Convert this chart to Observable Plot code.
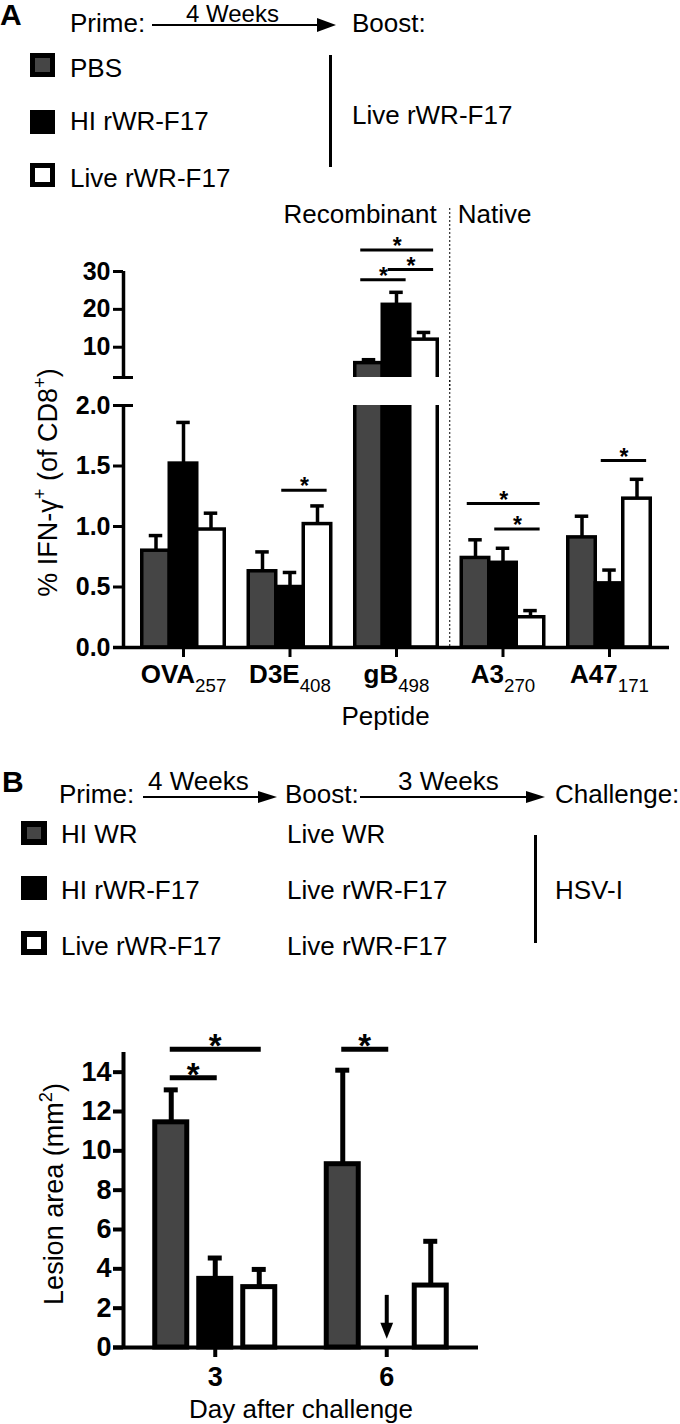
<!DOCTYPE html>
<html><head><meta charset="utf-8">
<script src="https://cdn.jsdelivr.net/npm/d3@7"></script>
<script src="https://cdn.jsdelivr.net/npm/@observablehq/plot@0.6"></script>
<style>
html,body{margin:0;padding:0;background:#fff;overflow:hidden;}
#fig{position:relative;width:680px;height:1424px;font-family:"Liberation Sans",Arial,Helvetica,sans-serif;color:#000;}
#fig svg{position:absolute;left:0;}
#fig g[aria-label$="tick label"]{font-weight:bold;}
</style></head><body><div id="fig"></div>
<script>
// ================= DATA =================
// Panel A
const peptides = ["OVA", "D3E", "gB", "A3", "A47"];
const peptideSubs = ["257", "408", "498", "270", "171"];
const nativePeptides = ["A3", "A47"];
const regionLabels = ["Recombinant", "Native"];
const groupsA = ["PBS", "HI rWR-F17", "Live rWR-F17"];
const boostA = "Live rWR-F17";
const pbsMean  = [0.80, 0.63, 5.8, 0.74, 0.91];
const pbsSem   = [0.125, 0.16, 0.9, 0.15, 0.175];
const hiMean   = [1.52, 0.50, 21.2, 0.70, 0.53];
const hiSem    = [0.34, 0.12, 3.3, 0.12, 0.11];
const liveMean = [0.975, 1.02, 12.0, 0.25, 1.23];
const liveSem  = [0.135, 0.15, 1.9, 0.055, 0.16];
const ticksAlow  = [0, 0.5, 1, 1.5, 2];
const ticksAhigh = [10, 20, 30];
const sigA = [
  {peptide: "gB",  g1: 0, g2: 2, y: 35.7},
  {peptide: "gB",  g1: 1, g2: 2, y: 30.5},
  {peptide: "gB",  g1: 0, g2: 1, y: 27.8},
  {peptide: "D3E", g1: 1, g2: 2, y: 1.30},
  {peptide: "A3",  g1: 0, g2: 2, y: 1.19},
  {peptide: "A3",  g1: 1, g2: 2, y: 0.98},
  {peptide: "A47", g1: 1, g2: 2, y: 1.545}
];
// Panel B
const days = ["3", "6"];
const groupsB = ["HI WR", "HI rWR-F17", "Live rWR-F17"];
const boostB = ["Live WR", "Live rWR-F17", "Live rWR-F17"];
const challengeB = "HSV-I";
const hiWrMean   = [11.45, 9.32];
const hiWrSem    = [1.65, 4.78];
const hiF17Mean  = [3.49, 0];
const hiF17Sem   = [1.06, 0];
const liveF17Mean = [3.07, 3.15];
const liveF17Sem  = [0.90, 2.25];
const ticksB = [0, 2, 4, 6, 8, 10, 12, 14];
const sigB = [
  {day: "3", g1: 0, g2: 1, y: 13.72},
  {day: "3", g1: 0, g2: 2, y: 15.16},
  {day: "6", g1: 0, g2: 1, y: 15.16}
];
const notDetectedB = [{day: "6", g: 1, from: 2.65, to: 0.85}];

// ================= STYLE / LAYOUT =================
const FONT = "'Liberation Sans', Arial, Helvetica, sans-serif";
const GREY = "#454545";
const fills = [GREY, "#000", "#fff"];
const fig = document.getElementById("fig");

// band geometry A
const FRAME_A = 546, STEP_A = 106.5, BW_A = 27.5;
const PIN_A = 1 - BW_A / STEP_A;
const POUT_A = (FRAME_A / STEP_A - peptides.length + PIN_A) / 2;
const AXOFF_A = POUT_A * STEP_A + BW_A / 2;
// band geometry B
const FRAME_B = 355, STEP_B = 171.5, BW_B = 32, PITCH_B = 44;
const PIN_B = 1 - BW_B / STEP_B;
const POUT_B = (FRAME_B / STEP_B - days.length + PIN_B) / 2;
const AXOFF_B = POUT_B * STEP_B + BW_B / 2;

const rowsA = peptides.flatMap((p, i) => [
  {peptide: p, g: 0, mean: pbsMean[i], sem: pbsSem[i]},
  {peptide: p, g: 1, mean: hiMean[i], sem: hiSem[i]},
  {peptide: p, g: 2, mean: liveMean[i], sem: liveSem[i]}
]);
const rowsB = days.flatMap((d, i) => [
  {day: d, g: 0, mean: hiWrMean[i], sem: hiWrSem[i]},
  {day: d, g: 1, mean: hiF17Mean[i], sem: hiF17Sem[i]},
  {day: d, g: 2, mean: liveF17Mean[i], sem: liveF17Sem[i]}
]);

// ================= HTML LEGENDS =================
function txt(s, x, base, size = 26, weight = "normal") {
  const lh = 0.8 * size;
  const d = document.createElement("div");
  d.textContent = s;
  d.style.cssText = `position:absolute;left:${x}px;top:${base - ((lh - 1.117 * size) / 2 + 0.905 * size)}px;font:${weight} ${size}px/${lh}px ${FONT};white-space:nowrap;`;
  fig.appendChild(d);
}
function box(x, y, w, h, fill, bw) {
  const d = document.createElement("div");
  d.style.cssText = `position:absolute;left:${x}px;top:${y}px;width:${w}px;height:${h}px;box-sizing:border-box;background:${fill};border:${bw}px solid #000;`;
  fig.appendChild(d);
}
function vline(x, y1, y2, w = 3) {
  const d = document.createElement("div");
  d.style.cssText = `position:absolute;left:${x - w / 2}px;top:${y1}px;width:${w}px;height:${y2 - y1}px;background:#000;`;
  fig.appendChild(d);
}
function arrow(x1, x2, y, hw = 19, hh = 14) {
  const l = document.createElement("div");
  l.style.cssText = `position:absolute;left:${x1}px;top:${y - 1}px;width:${x2 - x1 - hw + 2}px;height:2px;background:#000;`;
  fig.appendChild(l);
  const h = document.createElement("div");
  h.style.cssText = `position:absolute;left:${x2 - hw}px;top:${y - hh / 2}px;width:0;height:0;border-left:${hw}px solid #000;border-top:${hh / 2}px solid transparent;border-bottom:${hh / 2}px solid transparent;`;
  fig.appendChild(h);
}

// Panel A legend
txt("A", 0, 25, 30, "bold");
txt("Prime:", 70, 32);
arrow(152, 336, 25, 19, 14);
txt("4 Weeks", 186, 22, 24);
txt("Boost:", 352, 32);
const legA_y = [53, 110, 163], legA_base = [77, 130, 187];
groupsA.forEach((g, i) => { box(30, legA_y[i], 25, 24, fills[i], 5); txt(g, 70, legA_base[i]); });
vline(330, 55, 167, 3);
txt(boostA, 352, 124);

// Panel B legend
txt("B", 2, 792, 30, "bold");
txt("Prime:", 59, 803);
arrow(143, 277, 797, 19, 13);
txt("4 Weeks", 148, 790);
txt("Boost:", 285, 803);
arrow(360, 545, 797, 19, 13);
txt("3 Weeks", 398, 790);
txt("Challenge:", 555, 803);
const legB_y = [821, 876, 931], legB_base = [843, 899, 955];
groupsB.forEach((g, i) => { box(21, legB_y[i], 26, 24, fills[i], 6); txt(g, 61, legB_base[i]); txt(boostB[i], 287, legB_base[i]); });
vline(535, 835, 943, 3);
txt(challengeB, 555, 899);

// ================= RICH TEXT (sup/sub) =================
function richify(svg) {
  svg.querySelectorAll("text").forEach(t => {
    const s = t.textContent;
    if (!/[\^_]\{/.test(s)) return;
    const fs = parseFloat(getComputedStyle(t).fontSize) || 26;
    const parts = s.split(/([\^_]\{[^}]*\})/).filter(p => p !== "");
    while (t.firstChild) t.removeChild(t.firstChild);
    let shift = 0;
    for (const p of parts) {
      const ts = document.createElementNS("http://www.w3.org/2000/svg", "tspan");
      const m = p.match(/^([\^_])\{([^}]*)\}$/);
      if (m) {
        const target = m[1] === "^" ? -0.4 * fs : 0.34 * fs;
        ts.setAttribute("dy", target - shift); shift = target;
        ts.style.fontSize = (m[1] === "^" ? 0.68 : 0.72) * fs + "px";
        ts.style.fontWeight = "normal";
        ts.textContent = m[2];
      } else {
        if (shift) { ts.setAttribute("dy", -shift); shift = 0; }
        ts.textContent = p;
      }
      t.appendChild(ts);
    }
  });
}
function place(svg, top) {
  svg.style.top = top + "px";
  fig.appendChild(svg);
  richify(svg);
}

// ================= PANEL A MARKS =================
function barMarksA(keep) {
  return [0, 1, 2].flatMap(g => {
    const data = rowsA.filter(d => d.g === g && keep(d));
    const dx = (g - 1) * BW_A;
    return [
      Plot.barY(data, {x: "peptide", y: "mean", dx, fill: fills[g], stroke: "#000", strokeWidth: 3.5, clip: true}),
      Plot.ruleX(data, {x: "peptide", y1: "mean", y2: d => d.mean + d.sem, dx, stroke: "#000", strokeWidth: 3.5, clip: true}),
      Plot.tickY(data, {x: "peptide", y: d => d.mean + d.sem, dx, stroke: "#000", strokeWidth: 3.5, insetLeft: 7, insetRight: 7, clip: true})
    ];
  });
}
function sigMarksA(data) {
  const pairs = [[0, 1], [1, 2], [0, 2]];
  return pairs.flatMap(([a, b]) => {
    const dd = data.filter(d => d.g1 === a && d.g2 === b);
    if (!dd.length) return [];
    return [
      Plot.tickY(dd, {x: "peptide", y: "y", stroke: "#000", strokeWidth: 3, insetLeft: (a - 0.8) * BW_A, insetRight: (1.15 - b) * BW_A}),
      Plot.text(dd, {x: "peptide", y: "y", text: () => "*", dx: ((a + b) / 2 - 0.975) * BW_A, dy: 4, lineAnchor: "bottom", fontSize: 23, fontWeight: "bold"})
    ];
  });
}
const xA = {type: "band", domain: peptides, paddingInner: PIN_A, paddingOuter: POUT_A, round: false};
const styleCommon = {background: "transparent", overflow: "visible", fontFamily: FONT, fontSize: "25px", color: "#000"};
const divider = [nativePeptides[0]];
const BREAK = 2;

const upperA = Plot.plot({
  width: 680, height: 202, marginTop: 81, marginBottom: 15, marginLeft: 123, marginRight: 680 - 123 - FRAME_A,
  style: styleCommon,
  x: {...xA, axis: null},
  y: {domain: [BREAK, 30]},
  marks: [
    Plot.axisY({ticks: ticksAhigh, tickFormat: d => String(d), tickSize: 10, tickPadding: 3, strokeWidth: 3, fontSize: 25, fontWeight: "bold", label: null}),
    Plot.ruleX([peptides[0]], {x: d => d, y1: BREAK, y2: 30, dx: -AXOFF_A, strokeWidth: 3.5}),
    Plot.ruleY([BREAK], {insetLeft: -10, insetRight: FRAME_A - 10, strokeWidth: 3}),
    Plot.ruleX(divider, {x: d => d, dx: -STEP_A / 2, strokeDasharray: "2,2", strokeWidth: 1, insetTop: -63, insetBottom: -15}),
    ...barMarksA(d => d.mean > BREAK),
    ...sigMarksA(sigA.filter(d => d.y > BREAK)),
    Plot.text([regionLabels[0]], {x: () => divider[0], text: d => d, frameAnchor: "top", dx: -STEP_A / 2 - 13, dy: -49, textAnchor: "end", lineAnchor: "bottom", fontSize: 26}),
    Plot.text([regionLabels[1]], {x: () => divider[0], text: d => d, frameAnchor: "top", dx: -STEP_A / 2 + 8, dy: -49, textAnchor: "start", lineAnchor: "bottom", fontSize: 26})
  ]
});
place(upperA, 190);

const lowerA = Plot.plot({
  width: 680, height: 357, marginTop: 25, marginBottom: 90, marginLeft: 123, marginRight: 680 - 123 - FRAME_A,
  style: styleCommon,
  x: xA,
  y: {domain: [0, BREAK]},
  marks: [
    Plot.axisX({tickSize: 10, tickPadding: 7, strokeWidth: 3, fontSize: 26, fontWeight: "bold", label: null,
      tickFormat: d => `${d}_{${peptideSubs[peptides.indexOf(d)]}}`}),
    Plot.axisY({ticks: ticksAlow, tickFormat: d3.format(".1f"), tickSize: 10, tickPadding: 3, strokeWidth: 3, fontSize: 25, fontWeight: "bold", label: null}),
    Plot.ruleX(divider, {x: d => d, dx: -STEP_A / 2, strokeDasharray: "2,2", strokeWidth: 1, insetTop: -25}),
    ...barMarksA(() => true),
    Plot.ruleX([peptides[0]], {x: d => d, y1: 0, y2: BREAK, dx: -AXOFF_A, strokeWidth: 3.5}),
    Plot.ruleY([BREAK], {insetLeft: -10, insetRight: FRAME_A - 10, strokeWidth: 3}),
    Plot.ruleY([0], {insetLeft: -10, insetRight: 0, strokeWidth: 3.5}),
    ...sigMarksA(sigA.filter(d => d.y <= BREAK)),
    Plot.text(["% IFN-γ^{+} (of CD8^{+})"], {text: d => d, frameAnchor: "left", textAnchor: "middle", rotate: -90, dx: -75, dy: -44, fontSize: 27}),
    Plot.text(["Peptide"], {text: d => d, frameAnchor: "bottom", textAnchor: "middle", dx: -11, dy: 77, lineAnchor: "bottom", fontSize: 26})
  ]
});
place(lowerA, 380);

// ================= PANEL B =================
function barMarksB() {
  return [0, 1, 2].flatMap(g => {
    const data = rowsB.filter(d => d.g === g && d.mean > 0);
    const dx = (g - 1) * PITCH_B;
    return [
      Plot.ruleX(data, {x: "day", y1: "mean", y2: d => d.mean + d.sem, dx, stroke: "#000", strokeWidth: 5}),
      Plot.tickY(data, {x: "day", y: d => d.mean + d.sem, dx, stroke: "#000", strokeWidth: 5, insetLeft: 9, insetRight: 9}),
      Plot.barY(data, {x: "day", y: "mean", dx, fill: fills[g], stroke: "#000", strokeWidth: 5})
    ];
  });
}
function sigMarksB(data) {
  const pairs = [[0, 1], [1, 2], [0, 2]];
  return pairs.flatMap(([a, b]) => {
    const dd = data.filter(d => d.g1 === a && d.g2 === b);
    if (!dd.length) return [];
    return [
      Plot.tickY(dd, {x: "day", y: "y", stroke: "#000", strokeWidth: 5, insetLeft: (a - 1) * PITCH_B + BW_B / 2 - 1, insetRight: BW_B / 2 - (b - 1) * PITCH_B - 2}),
      Plot.text(dd, {x: "day", y: "y", text: () => "*", dx: ((a + b) / 2 - 1) * PITCH_B, dy: 8, lineAnchor: "bottom", fontSize: 33, fontWeight: "bold"})
    ];
  });
}
const tallTriangle = {draw(ctx, size) { const r = Math.sqrt(size / Math.PI); ctx.moveTo(0, r); ctx.lineTo(-0.8 * r, -r); ctx.lineTo(0.8 * r, -r); ctx.closePath(); }};

const plotB = Plot.plot({
  width: 680, height: 414, marginTop: 42, marginBottom: 77, marginLeft: 123, marginRight: 680 - 123 - FRAME_B,
  style: styleCommon,
  x: {type: "band", domain: days, paddingInner: PIN_B, paddingOuter: POUT_B, round: false},
  y: {domain: [0, 15]},
  marks: [
    Plot.axisX({tickSize: 10, tickPadding: 9, strokeWidth: 4, fontSize: 27, fontWeight: "bold", label: null}),
    Plot.axisY({ticks: ticksB, tickSize: 10, tickPadding: 2, strokeWidth: 4, fontSize: 27, fontWeight: "bold", label: null}),
    ...barMarksB(),
    Plot.ruleX([days[0]], {x: d => d, y1: 0, y2: 15, dx: -AXOFF_B, strokeWidth: 4}),
    Plot.ruleY([0], {insetLeft: -10, insetRight: 0, strokeWidth: 4}),
    ...sigMarksB(sigB),
    Plot.ruleX(notDetectedB, {x: "day", y1: "from", y2: "to", dx: (notDetectedB[0].g - 1) * PITCH_B, strokeWidth: 4}),
    Plot.dot(notDetectedB, {x: "day", y: "to", dx: (notDetectedB[0].g - 1) * PITCH_B, symbol: tallTriangle, r: 8, fill: "#000", stroke: "none"}),
    Plot.text(["Lesion area (mm^{2})"], {text: d => d, frameAnchor: "left", textAnchor: "middle", rotate: -90, dx: -69, dy: -6, fontSize: 27}),
    Plot.text(["Day after challenge"], {text: d => d, frameAnchor: "bottom", textAnchor: "middle", dy: 70, lineAnchor: "bottom", fontSize: 26})
  ]
});
place(plotB, 1010);
</script>
</body></html>
